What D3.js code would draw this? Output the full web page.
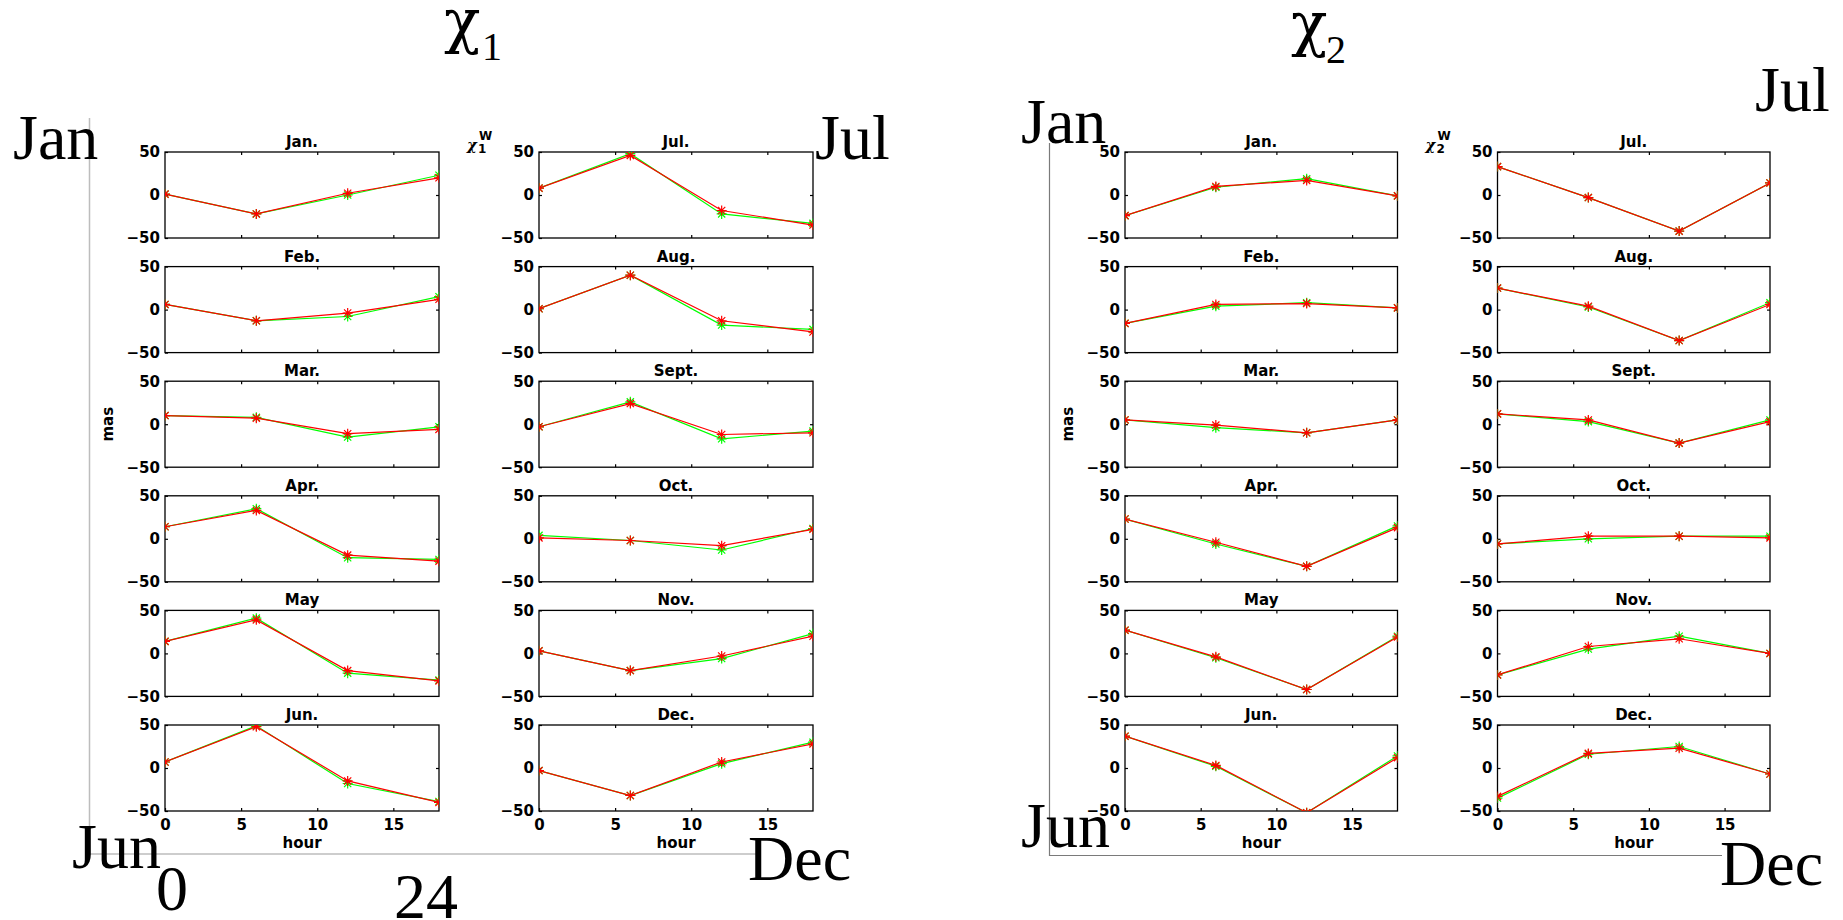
<!DOCTYPE html>
<html>
<head>
<meta charset="utf-8">
<script src="https://cdn.jsdelivr.net/npm/d3@7"></script>
<style>
  body { margin: 0; background: #fff; }
  svg { display: block; }
</style>
</head>
<body>
<svg id="chart"></svg>
<script>
// hours of the day sampled in every panel
const hours = [0, 6, 12, 18];
const monthTitles = ["Jan.", "Feb.", "Mar.", "Apr.", "May", "Jun.",
                     "Jul.", "Aug.", "Sept.", "Oct.", "Nov.", "Dec."];
const yTicks = [-50, 0, 50];
const xTicks = [0, 5, 10, 15];

// chi1, one row per month (values in mas at 0, 6, 12, 18 h)
const chi1Green = [
  [1, -22, 0, 23], [6, -13, -8, 15], [10, 8, -15, -3], [14, 35, -22, -24],
  [14, 41, -23, -31], [7, 49, -18, -39], [8, 48, -22, -33], [1, 40, -18, -23],
  [-3, 26, -17, -8], [4, -2, -13, 12], [3, -20, -6, 23], [-3, -32, 5, 30]
];
const chi1Red = [
  [1, -22, 2, 20], [6, -13, -4, 12], [10, 7, -11, -6], [14, 33, -19, -26],
  [14, 39, -20, -32], [7, 48, -15, -40], [8, 46, -18, -35], [1, 40, -13, -26],
  [-3, 24, -12, -10], [1, -2, -8, 11], [3, -20, -3, 20], [-3, -32, 7, 28]
];
// chi2
const chi2Green = [
  [-24, 9, 19, -1], [-16, 4, 8, 2], [5, -4, -10, 5], [23, -6, -32, 15],
  [27, -5, -42, 20], [37, 2, -52, 14], [33, -3, -42, 14], [25, 3, -36, 8],
  [12, 3, -22, 5], [-6, 0, 3, 3], [-25, 5, 20, 0], [-35, 16, 25, -7]
];
const chi2Red = [
  [-24, 10, 17, -1], [-16, 6, 7, 2], [5, -1, -10, 5], [23, -4, -32, 13],
  [27, -4, -42, 19], [37, 3, -52, 12], [33, -3, -42, 14], [25, 4, -36, 6],
  [12, 5, -22, 3], [-6, 3, 3, 1], [-25, 8, 17, 0], [-33, 17, 23, -7]
];

let width = 1843;
let height = 920;
let small = "'DejaVu Sans', sans-serif";
let serif = "'Liberation Serif', 'Times New Roman', serif";
let greek = "'DejaVu Serif', serif";
let rowTop = 152;
let rowStep = 114.6;
let boxH = 86;

const svg = d3.select("#chart").attr("width", width).attr("height", height);
const defs = svg.append("defs");

let groups = [
  {
    sub: "1", green: chi1Green, red: chi1Red, cols: [165, 539], w: 274,
    title: [444, 42, 482, 60],
    frame: { x: 89.5, y0: 118, y1: 854, x1: 757, color: "#bdbdbd", width: 1.5 },
    corners: [["Jan", 13, 159], ["Jul", 815, 159], ["Jun", 72, 868], ["Dec", 748, 880],
              ["0", 156, 910], ["24", 394, 918]]
  },
  {
    sub: "2", green: chi2Green, red: chi2Red, cols: [1125, 1497.5], w: 272.5,
    title: [1291, 45, 1326, 63],
    frame: { x: 1049.5, y0: 143, y1: 855.5, x1: 1722, color: "#7a7a7a", width: 1.2 },
    corners: [["Jan", 1021, 143], ["Jul", 1755, 111], ["Jun", 1021, 847], ["Dec", 1720, 885]]
  }
];

function asterisk(sel, color) {
  sel.append("path")
    .attr("d", "M-5,0H5M0,-5V5M-3.6,-3.6L3.6,3.6M-3.6,3.6L3.6,-3.6")
    .attr("stroke", color)
    .attr("stroke-width", 1.2)
    .attr("fill", "none");
}

function styleAxis(g) {
  g.select(".domain").remove();
  g.attr("font-family", small).attr("font-size", 15).attr("font-weight", "bold");
  g.selectAll("line").attr("stroke", "#000").attr("stroke-width", 1.2);
}

groups.forEach((grp, gi) => {
  // frame lines
  const f = grp.frame;
  svg.append("path")
    .attr("d", `M${f.x},${f.y0}V${f.y1}H${f.x1}`)
    .attr("fill", "none")
    .attr("stroke", f.color)
    .attr("stroke-width", f.width);

  grp.cols.forEach((left, c) => {
    const x = d3.scaleLinear().domain([0, 18]).range([left, left + grp.w]);
    for (let r = 0; r < 6; r++) {
      const m = c * 6 + r;
      const top = rowTop + r * rowStep;
      const y = d3.scaleLinear().domain([-50, 50]).range([top + boxH, top]);
      const g = svg.append("g");
      const clipId = `clip-${gi}-${m}`;
      defs.append("clipPath").attr("id", clipId)
        .append("rect").attr("x", left).attr("y", top).attr("width", grp.w).attr("height", boxH);

      g.append("g").attr("transform", `translate(${left},0)`)
        .call(d3.axisLeft(y).tickValues(yTicks).tickSize(-3).tickPadding(5))
        .call(styleAxis);
      g.append("g").attr("transform", `translate(${left + grp.w},0)`)
        .call(d3.axisRight(y).tickValues([0]).tickSize(-3).tickFormat(""))
        .call(styleAxis);
      g.append("g").attr("transform", `translate(0,${top})`)
        .call(d3.axisTop(x).tickValues([5, 10, 15]).tickSize(-3).tickFormat(""))
        .call(styleAxis);
      const bottom = d3.axisBottom(x).tickSize(-3).tickPadding(8);
      if (r === 5) bottom.tickValues(xTicks);
      else bottom.tickValues([5, 10, 15]).tickFormat("");
      g.append("g").attr("transform", `translate(0,${top + boxH})`)
        .call(bottom)
        .call(styleAxis);

      g.append("rect")
        .attr("x", left).attr("y", top).attr("width", grp.w).attr("height", boxH)
        .attr("fill", "none").attr("stroke", "#000").attr("stroke-width", 1.3);

      g.append("text")
        .attr("x", left + grp.w / 2).attr("y", top - 5)
        .attr("text-anchor", "middle")
        .attr("font-family", small).attr("font-size", 15).attr("font-weight", "bold")
        .text(monthTitles[m]);

      const line = d3.line().x((d, i) => x(hours[i])).y((d) => y(d));
      const plot = g.append("g").attr("clip-path", `url(#${clipId})`);
      [[grp.green[m], "#00ff00"], [grp.red[m], "#ff0000"]].forEach(([vals, color]) => {
        plot.append("path")
          .attr("d", line(vals))
          .attr("fill", "none")
          .attr("stroke", color)
          .attr("stroke-width", 1.2);
        plot.selectAll(null)
          .data(vals)
          .join("g")
          .attr("transform", (d, i) => `translate(${x(hours[i])},${y(d)})`)
          .each(function () { asterisk(d3.select(this), color); });
      });

      if (r === 5) {
        g.append("text")
          .attr("x", left + grp.w / 2).attr("y", top + boxH + 37)
          .attr("text-anchor", "middle")
          .attr("font-family", small).attr("font-size", 15).attr("font-weight", "bold")
          .text("hour");
      }
      if (c === 0 && r === 2) {
        g.append("text")
          .attr("transform", `translate(${left - 52},${top + boxH / 2}) rotate(-90)`)
          .attr("text-anchor", "middle")
          .attr("font-family", small).attr("font-size", 15).attr("font-weight", "bold")
          .text("mas");
      }
      if (c === 1 && r === 0) {
        const lx = left - 72;
        g.append("text").attr("x", lx).attr("y", top - 2)
          .attr("font-family", greek).attr("font-size", 15).attr("font-weight", "bold")
          .attr("font-style", "italic").text("χ");
        g.append("text").attr("x", lx + 12).attr("y", top - 12)
          .attr("font-family", small).attr("font-size", 12).attr("font-weight", "bold")
          .text("W");
        g.append("text").attr("x", lx + 11).attr("y", top + 1)
          .attr("font-family", small).attr("font-size", 12).attr("font-weight", "bold")
          .text(grp.sub);
      }
    }
  });

  // big title chi_n
  const t = grp.title;
  svg.append("text").attr("x", t[0]).attr("y", t[1])
    .attr("font-family", greek).attr("font-size", 60).text("χ");
  svg.append("text").attr("x", t[2]).attr("y", t[3])
    .attr("font-family", serif).attr("font-size", 40).text(grp.sub);

  // corner labels
  svg.append("g")
    .selectAll("text")
    .data(grp.corners)
    .join("text")
    .attr("x", (d) => d[1])
    .attr("y", (d) => d[2])
    .attr("font-family", serif)
    .attr("font-size", 64)
    .text((d) => d[0]);
});
</script>
</body>
</html>
